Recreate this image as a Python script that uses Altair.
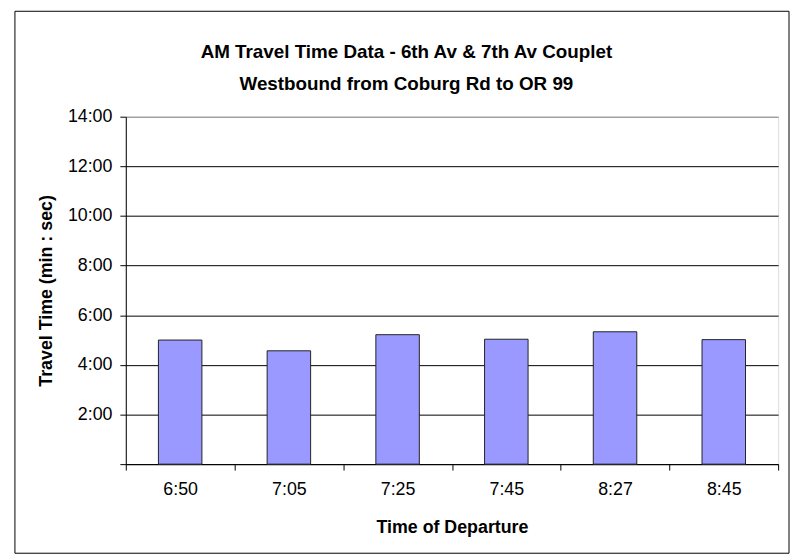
import altair as alt
import pandas as pd

# Data
departure = ["6:50", "7:05", "7:25", "7:45", "8:27", "8:45"]
travel_seconds = [300, 274, 313, 302, 320, 301]
y_tick_values = [0, 120, 240, 360, 480, 600, 720, 840]
title_lines = ["AM Travel Time Data - 6th Av & 7th Av Couplet",
               "Westbound from Coburg Rd to OR 99"]

df = pd.DataFrame({"Departure": departure, "Seconds": travel_seconds})

FONT = "Liberation Sans"

label_expr = ("datum.value == 0 ? '' : floor(datum.value / 60) + ':' + "
              "(datum.value % 60 < 10 ? '0' : '') + (datum.value % 60)")

bars = alt.Chart(df).mark_bar(
    color="#9999FF", stroke="#222222", strokeWidth=1,
    width=alt.RelativeBandSize(0.4)
).encode(
    x=alt.X("Departure:N", sort=departure,
            scale=alt.Scale(paddingInner=0, paddingOuter=0),
            axis=alt.Axis(title="Time of Departure", labelAngle=0,
                          tickBand="extent", tickSize=6, labelPadding=11,
                          labelFontSize=18, titleFontSize=18,
                          titleY=64, titleBaseline="middle",
                          grid=False, domainColor="#000000",
                          tickColor="#000000")),
    y=alt.Y("Seconds:Q",
            scale=alt.Scale(domain=[0, 840], nice=False, zero=True),
            axis=alt.Axis(title="Travel Time (min : sec)",
                          values=y_tick_values, labelExpr=label_expr,
                          tickSize=6, labelPadding=8, labelFontSize=18,
                          titleFontSize=18, titleX=-80, titleY=175.5,
                          titleBaseline="middle",
                          grid=True,
                          gridColor={"condition": {"test": "datum.value >= 840",
                                                   "value": "#808080"},
                                     "value": "#000000"},
                          domainColor="#000000", tickColor="#000000")),
)

frame = alt.Chart(pd.DataFrame({"k": [0]})).mark_rect(
    fillOpacity=0, stroke="#000000", strokeWidth=1
).encode(
    x=alt.value(-112), x2=alt.value(670),
    y=alt.value(-106.5), y2=alt.value(441)
)

chart = alt.layer(bars, frame).properties(
    width=659, height=351,
    padding={"left": 119, "top": 107, "right": 12, "bottom": 91},
    autosize=alt.AutoSizeParams(type="none"),
    title=alt.TitleParams(title_lines, fontSize=19, font=FONT,
                          fontWeight="bold", anchor="middle", dx=-46,
                          offset=-84, lineHeight=32, color="#000000"),
).configure_view(
    stroke="#808080", strokeWidth=1
).configure_axis(
    labelFont=FONT, titleFont=FONT, labelColor="#000000",
    titleColor="#000000", titleFontWeight="bold", domainWidth=1,
    gridWidth=1, tickWidth=1
).configure(background="#ffffff")

chart.save("out.html", embed_options={"renderer": "svg", "actions": False})
